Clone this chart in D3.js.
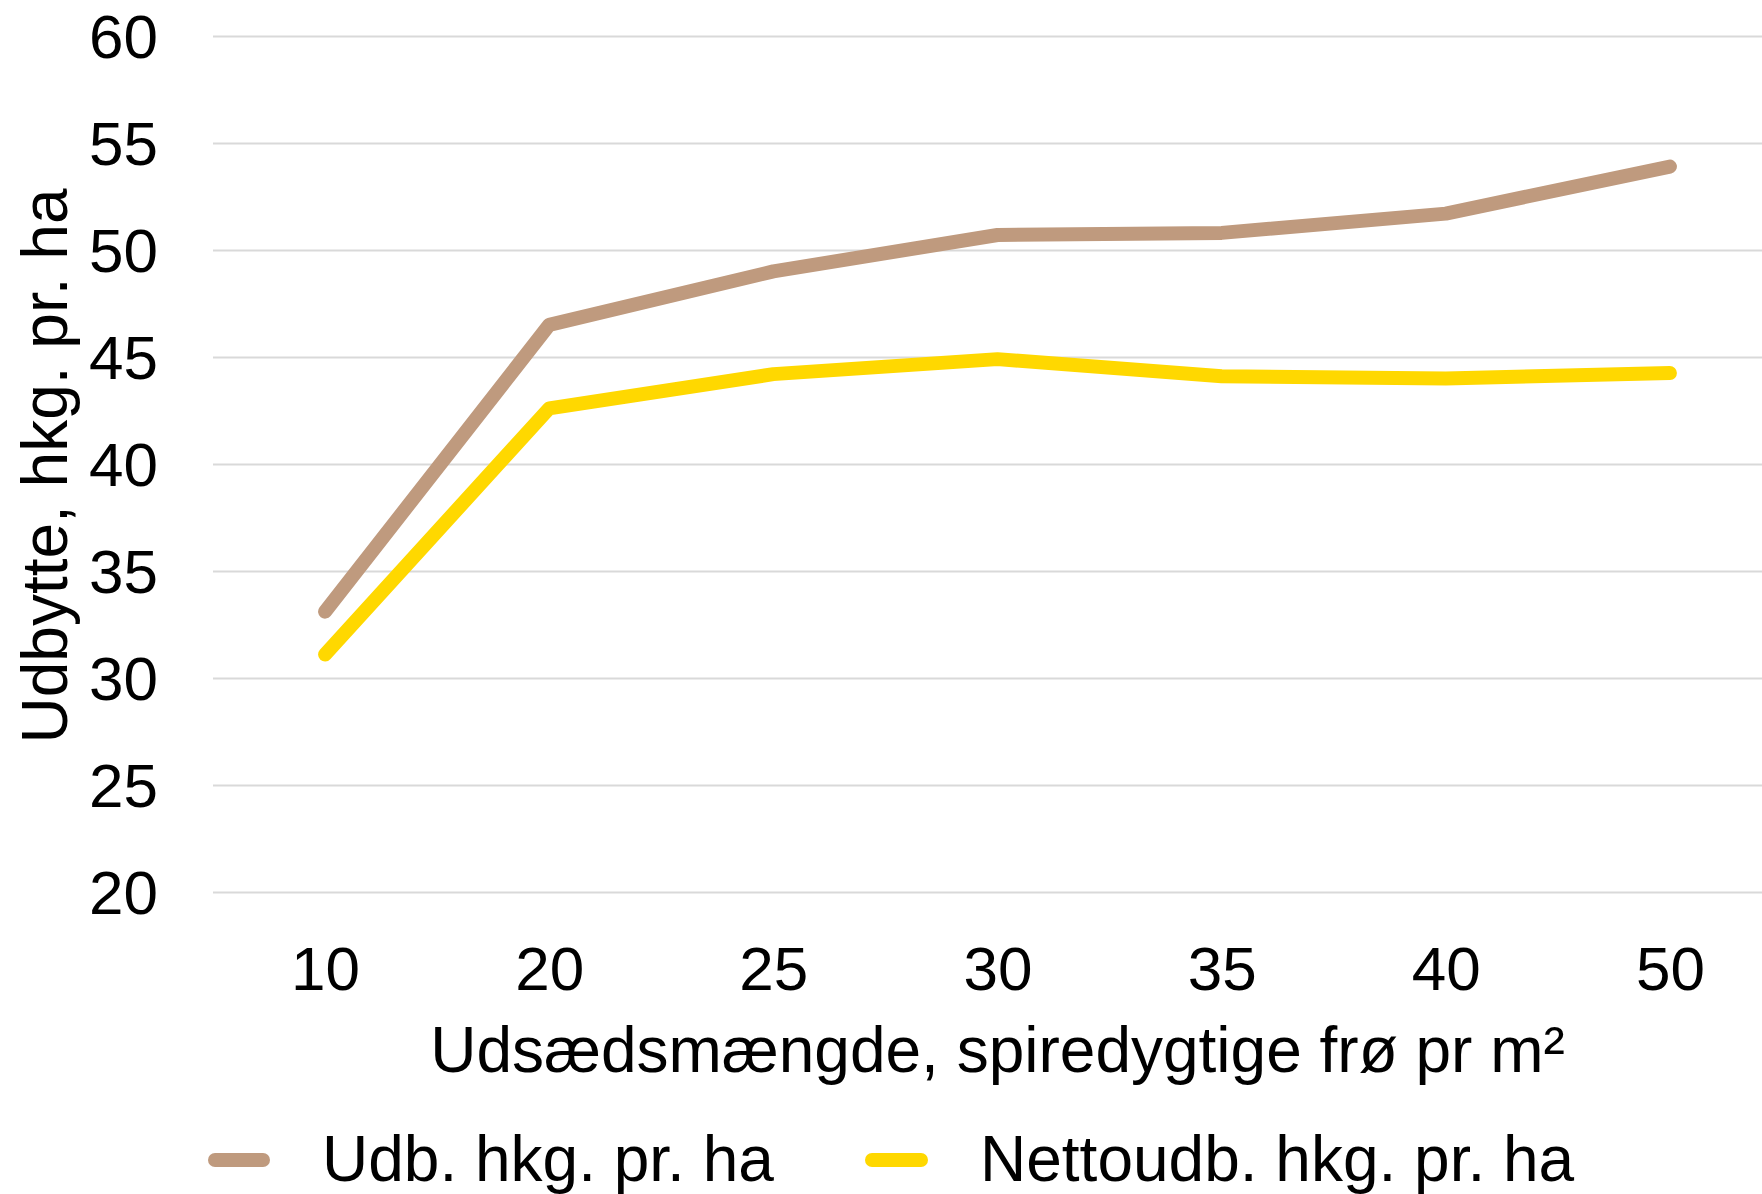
<!DOCTYPE html>
<html>
<head>
<meta charset="utf-8">
<script src="https://cdn.jsdelivr.net/npm/d3@7"></script>
<style>
  html, body { margin: 0; padding: 0; background: #ffffff; }
  svg { display: block; }
  text { font-family: "Liberation Sans", Arial, sans-serif; fill: #000; }
</style>
</head>
<body>
<svg id="chart" width="1762" height="1194"></svg>
<script>
// ---- Data ----
const categories = ["10", "20", "25", "30", "35", "40", "50"];
const udbValues = [33.1, 46.5, 49.0, 50.7, 50.8, 51.7, 53.9];
const nettoValues = [31.1, 42.6, 44.2, 44.9, 44.1, 44.0, 44.25];
const yTicks = [20, 25, 30, 35, 40, 45, 50, 55, 60];
const seriesNames = ["Udb. hkg. pr. ha", "Nettoudb. hkg. pr. ha"];
const yTitle = "Udbytte, hkg. pr. ha";
const xTitle = "Udsædsmængde, spiredygtige frø pr m²";

// ---- Layout ----
const W = 1762, H = 1194;
const plot = { left: 213, top: 36, right: 1782, bottom: 892 };
const colors = ["#BF9A7E", "#FFD800"];
const fontSize = 62;
const titleSize = 64;

const svg = d3.select("#chart");

const x = d3.scalePoint().domain(categories).range([plot.left, plot.right]).padding(0.5);
const y = d3.scaleLinear().domain([20, 60]).range([plot.bottom, plot.top]);

// Gridlines
const yAxis = d3.axisLeft(y).tickValues(yTicks).tickSize(-(plot.right - plot.left)).tickPadding(0).tickFormat(d3.format("d"));
const gy = svg.append("g").attr("transform", `translate(${plot.left},0)`).call(yAxis);
gy.select(".domain").remove();
gy.selectAll(".tick line").attr("stroke", "#D9D9D9").attr("stroke-width", 2);
gy.selectAll(".tick text")
  .attr("x", -(plot.left - 158))
  .attr("dy", "0.35em")
  .attr("text-anchor", "end")
  .style("font-size", fontSize + "px")
  .style("font-family", '"Liberation Sans", Arial, sans-serif')
  .attr("fill", "#000");

// X axis labels
const xAxis = d3.axisBottom(x).tickSize(0).tickPadding(0);
const gx = svg.append("g").attr("transform", `translate(0,${plot.bottom})`).call(xAxis);
gx.select(".domain").remove();
gx.selectAll(".tick text")
  .attr("y", 990 - plot.bottom)
  .attr("dy", 0)
  .attr("text-anchor", "middle")
  .style("font-size", fontSize + "px")
  .style("font-family", '"Liberation Sans", Arial, sans-serif')
  .attr("fill", "#000");

// Lines
const line = d3.line().x((d, i) => x(categories[i])).y(d => y(d));
[udbValues, nettoValues].forEach((vals, k) => {
  svg.append("path")
    .datum(vals)
    .attr("d", line)
    .attr("fill", "none")
    .attr("stroke", colors[k])
    .attr("stroke-width", 14)
    .attr("stroke-linecap", "round")
    .attr("stroke-linejoin", "round");
});

// Axis titles
svg.append("text")
  .attr("transform", `translate(67, ${(plot.top + plot.bottom) / 2 + 2}) rotate(-90)`)
  .attr("text-anchor", "middle")
  .style("font-size", titleSize + "px")
  .text(yTitle);

svg.append("text")
  .attr("x", (plot.left + plot.right) / 2)
  .attr("y", 1072)
  .attr("text-anchor", "middle")
  .style("font-size", titleSize + "px")
  .text(xTitle);

// Legend
const legendItems = [
  { name: seriesNames[0], color: colors[0], x1: 215, x2: 263, tx: 322 },
  { name: seriesNames[1], color: colors[1], x1: 872, x2: 921, tx: 980 }
];
const lg = svg.append("g");
legendItems.forEach(it => {
  lg.append("line")
    .attr("x1", it.x1).attr("x2", it.x2)
    .attr("y1", 1160).attr("y2", 1160)
    .attr("stroke", it.color).attr("stroke-width", 14)
    .attr("stroke-linecap", "round");
  lg.append("text")
    .attr("x", it.tx).attr("y", 1181)
    .style("font-size", "64px")
    .text(it.name);
});
</script>
</body>
</html>
